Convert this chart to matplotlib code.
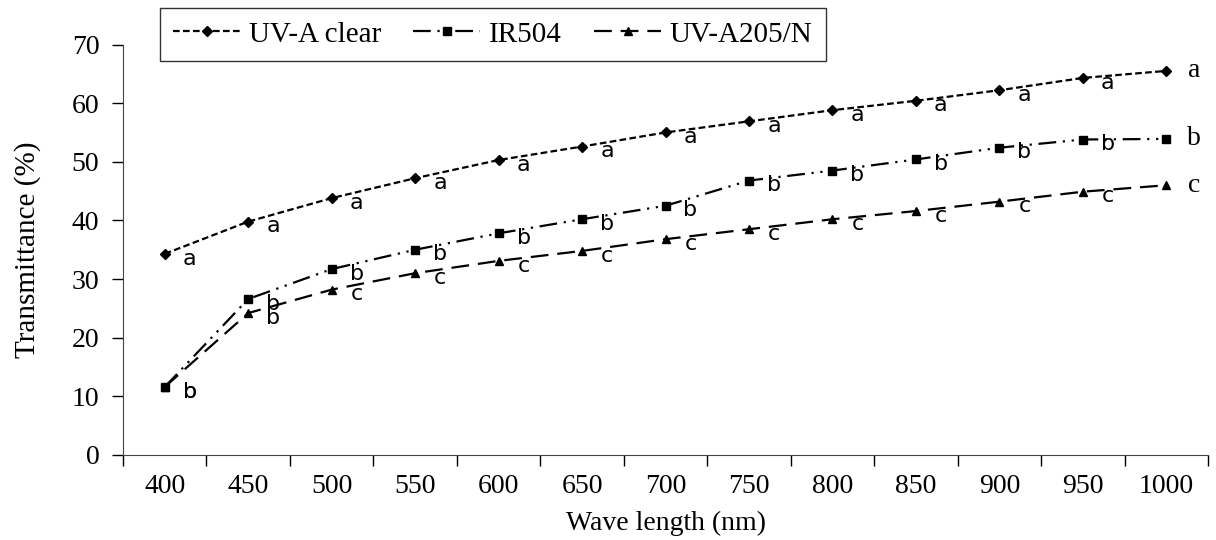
import matplotlib
matplotlib.use('Agg')
import matplotlib.pyplot as plt
import numpy as np

# data
wavelengths = ['400', '450', '500', '550', '600', '650', '700', '750', '800', '850', '900', '950', '1000']
uva_clear = [34.3, 39.8, 43.8, 47.2, 50.3, 52.6, 55.0, 56.9, 58.8, 60.4, 62.2, 64.3, 65.5]
ir504 = [11.6, 26.6, 31.7, 35.0, 37.8, 40.2, 42.5, 46.8, 48.5, 50.4, 52.4, 53.8, 53.9]
uva205n = [11.6, 24.2, 28.2, 31.0, 33.1, 34.8, 36.8, 38.5, 40.2, 41.6, 43.2, 44.9, 46.0]
letters_clear = ['a'] * 13
letters_ir = ['b'] * 13
letters_205 = ['b', 'b', 'c', 'c', 'c', 'c', 'c', 'c', 'c', 'c', 'c', 'c', 'c']

plt.rcParams['font.family'] = ['Liberation Serif', 'DejaVu Serif']

fig = plt.figure(figsize=(12.16, 5.4), dpi=100)
ax = fig.add_axes([123 / 1216, 1 - 455 / 540, (1208 - 123) / 1216, (455 - 44.5) / 540])

x = np.arange(len(wavelengths))
l1, = ax.plot(x, uva_clear, color='black', lw=1.6, linestyle=(0, (3, 1.5)),
              marker='D', ms=5, label='UV-A clear')
l2, = ax.plot(x, ir504, color='black', lw=1.6, linestyle=(0, (8, 3, 1, 3, 1, 3)),
              marker='s', ms=6, label='IR504')
l3, = ax.plot(x, uva205n, color='black', lw=1.6, linestyle=(0, (8, 4)),
              marker='^', ms=6, label='UV-A205/N')

# significance letters next to each point
for vals, lets in [(uva_clear, letters_clear), (ir504, letters_ir), (uva205n, letters_205)]:
    for i, (v, t) in enumerate(zip(vals, lets)):
        if i < len(vals) - 1:
            ax.text(x[i] + 0.3, v - 0.8, t, fontsize=16, family=['DejaVu Sans'],
                    ha='center', va='center')
        else:
            ax.text(x[i] + 0.33, v, t, fontsize=20, ha='center', va='center')

ax.set_xlim(-0.5, len(wavelengths) - 0.5)
ax.set_ylim(0, 70)
ax.set_yticks(range(0, 71, 10))
ax.set_xticks(x)
ax.set_xticklabels(wavelengths)
ax.set_xticks(np.arange(-0.5, len(wavelengths)), minor=True)
ax.tick_params(axis='x', which='major', length=0, pad=14, labelsize=20)
ax.tick_params(axis='x', which='minor', length=8, direction='out', width=1)
ax.tick_params(axis='y', length=8, direction='out', width=1, labelsize=20, pad=9)
ax.spines['top'].set_visible(False)
ax.spines['right'].set_visible(False)
for s in ['left', 'bottom']:
    ax.spines[s].set_color('#444444')

ax.set_xlabel('Wave length (nm)', fontsize=20, labelpad=8)
ax.set_ylabel('Transmittance (%)', fontsize=21, labelpad=22)

leg = fig.legend(handles=[l1, l2, l3], loc='upper left', ncol=3, fontsize=21,
                 bbox_to_anchor=(160 / 1216, 1 - 8 / 540), frameon=True, fancybox=False,
                 edgecolor='black', handlelength=2.3, columnspacing=1.1, borderpad=0.45,
                 handletextpad=0.3, borderaxespad=0)
leg.get_frame().set_linewidth(1)

fig.savefig('out.png', dpi=100)
